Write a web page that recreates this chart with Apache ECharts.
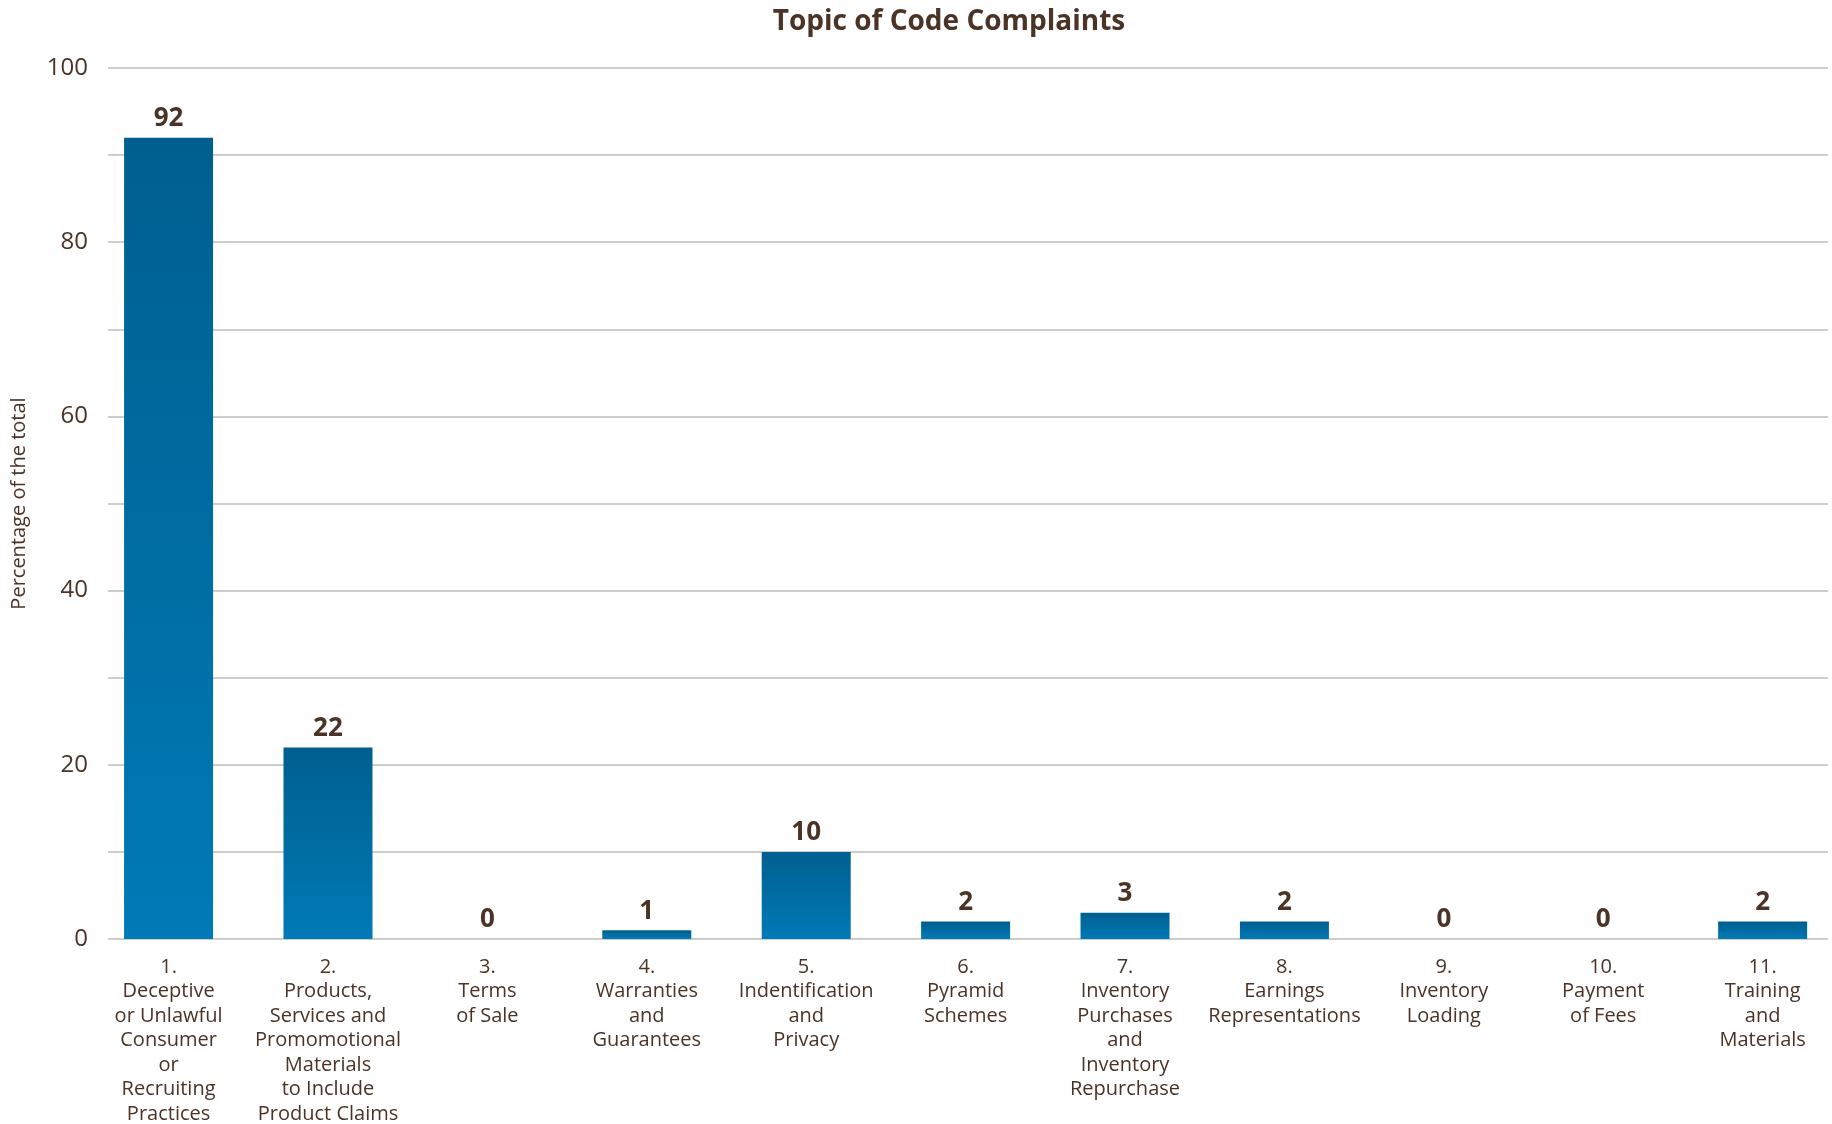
<!DOCTYPE html>
<html>
<head>
<meta charset="utf-8">
<script src="https://cdn.jsdelivr.net/npm/echarts@6/dist/echarts.min.js"></script>
<style>
  html, body { margin: 0; padding: 0; background: #ffffff; }
  #chart { width: 1832px; height: 1124px; }
</style>
</head>
<body>
<div id="chart"></div>
<script>
// Complaint topics (axis labels, wrapped as printed)
const categories = [
  '1.\nDeceptive\nor Unlawful\nConsumer\nor\nRecruiting\nPractices',
  '2.\nProducts,\nServices and\nPromomotional\nMaterials\nto Include\nProduct Claims',
  '3.\nTerms\nof Sale',
  '4.\nWarranties\nand\nGuarantees',
  '5.\nIndentification\nand\nPrivacy',
  '6.\nPyramid\nSchemes',
  '7.\nInventory\nPurchases\nand\nInventory\nRepurchase',
  '8.\nEarnings\nRepresentations',
  '9.\nInventory\nLoading',
  '10.\nPayment\nof Fees',
  '11.\nTraining\nand\nMaterials'
];

// Number of complaints per topic
const complaints = [92, 22, 0, 1, 10, 2, 3, 2, 0, 0, 2];

// Value axis settings
const yMin = 0;
const yMax = 100;
const yStep = 10;
const yLabelStep = 20;

// Topic slots sit slightly off the gridline span: the first slot starts
// left of the gridlines and the last one runs past their right end.
const xMin = -0.38;
const xMax = 10.41;

const brown = '#4b3326';
const font = "'Open Sans', 'Noto Sans', sans-serif";

// [topic index, value] pairs for the bar series
const barData = complaints.map((v, i) => [i, v]);
const topicTicks = categories.map((c, i) => i);

const chart = echarts.init(document.getElementById('chart'), null, { renderer: 'canvas' });

chart.setOption({
  backgroundColor: '#ffffff',
  animation: false,
  title: {
    text: 'Topic of Code Complaints',
    left: 944,
    top: 3,
    textAlign: 'center',
    textStyle: {
      fontFamily: font,
      fontWeight: 'bold',
      fontSize: 28,
      color: brown
    }
  },
  grid: { left: 108, right: 4, top: 68, bottom: 185, outerBoundsMode: 'none' },
  xAxis: {
    type: 'value',
    min: xMin,
    max: xMax,
    axisLine: { show: false },
    axisTick: { show: false },
    splitLine: { show: false },
    axisLabel: {
      customValues: topicTicks,
      formatter: v => categories[Math.round(v)] || '',
      margin: 16,
      fontFamily: font,
      fontSize: 20,
      lineHeight: 24.5,
      color: brown,
      align: 'center',
      verticalAlign: 'top'
    }
  },
  yAxis: {
    type: 'value',
    min: yMin,
    max: yMax,
    interval: yStep,
    name: 'Percentage of the total',
    nameLocation: 'middle',
    nameGap: 79,
    nameTextStyle: {
      fontFamily: font,
      fontSize: 20,
      color: brown
    },
    axisLine: { show: false },
    axisTick: { show: false },
    axisLabel: {
      margin: 20,
      fontFamily: font,
      fontSize: 24,
      color: brown,
      formatter: v => (v % yLabelStep === 0 ? String(v) : '')
    },
    splitLine: { lineStyle: { color: '#bcbcbc', width: 1.5 } }
  },
  series: [
    {
      type: 'bar',
      data: barData,
      barWidth: 89,
      itemStyle: {
        color: new echarts.graphic.LinearGradient(0, 0, 0, 1, [
          { offset: 0, color: '#005f8f' },
          { offset: 1, color: '#007ab7' }
        ])
      },
      label: {
        show: true,
        position: 'top',
        distance: 6,
        fontFamily: font,
        fontWeight: 'bold',
        fontSize: 26,
        color: brown,
        formatter: p => String(p.value[1])
      }
    }
  ]
});
</script>
</body>
</html>
